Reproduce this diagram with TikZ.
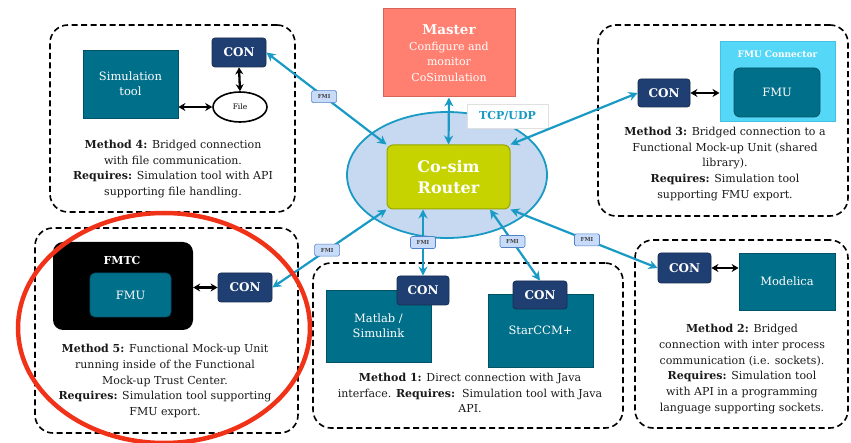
\documentclass[tikz,border=0pt]{standalone}
\usepackage{fontspec}
\setmainfont{DejaVu Serif}
\usetikzlibrary{arrows.meta,shapes.geometric}

\definecolor{toolteal}{RGB}{0,111,138}
\definecolor{conblue}{RGB}{31,63,115}
\definecolor{linkteal}{RGB}{24,154,196}
\definecolor{cloud}{RGB}{198,217,240}
\definecolor{routerfill}{RGB}{198,211,0}
\definecolor{routerline}{RGB}{150,165,0}
\definecolor{masterfill}{RGB}{255,128,112}
\definecolor{masterline}{RGB}{215,100,90}
\definecolor{fmucon}{RGB}{85,215,248}
\definecolor{fmiline}{RGB}{80,130,200}
\definecolor{fmifill}{RGB}{200,220,250}
\definecolor{ring}{RGB}{240,50,25}
\definecolor{desctext}{RGB}{25,25,25}

\tikzset{
  methodbox/.style={draw=black, line width=1.6pt, dash pattern=on 6pt off 3.5pt,
    rounded corners=18pt, inner sep=0pt},
  toolbox/.style={fill=toolteal, draw=toolteal!75!black, line width=0.8pt, text=white,
    align=center, inner sep=0pt, font=\fontsize{11.5}{15}\selectfont},
  conbox/.style={fill=conblue, draw=conblue!70!black, line width=0.8pt, rounded corners=3pt,
    text=white, inner sep=0pt, font=\bfseries\fontsize{12}{14}\selectfont},
  link/.style={draw=linkteal, line width=2.2pt,
    {Stealth[length=9pt,width=9pt]}-{Stealth[length=9pt,width=9pt]}},
  pipe/.style={draw=black, line width=2.3pt,
    {Stealth[length=7pt,width=8pt]}-{Stealth[length=7pt,width=8pt]}},
  fmi/.style={fill=fmifill, draw=fmiline, line width=0.6pt, rounded corners=1.5pt,
    font=\bfseries\fontsize{5.5}{6}\selectfont, text=black!75, inner sep=0pt,
    minimum width=25pt, minimum height=12pt},
  desc/.style={align=center, inner sep=0pt, text=desctext,
    font=\fontsize{11}{15.7}\selectfont},
}

\begin{document}
\begin{tikzpicture}[x=1pt,y=-1pt]
\useasboundingbox (0,0) rectangle (851,443);

% dashed frames of the five methods
\node[methodbox, minimum width=245pt, minimum height=187pt] (m4) at (172.5,118.5) {};
\node[methodbox, minimum width=250pt, minimum height=191pt] (m3) at (723,120.5) {};
\node[methodbox, minimum width=263pt, minimum height=205pt] (m5) at (166.5,330.5) {};
\node[methodbox, minimum width=310pt, minimum height=165pt] (m1) at (468,345.5) {};
\node[methodbox, minimum width=213pt, minimum height=188pt] (m2) at (741.5,334) {};

% central router and master
\node[ellipse, fill=cloud, draw=linkteal, line width=1.8pt,
      minimum width=200pt, minimum height=126pt] (cloud) at (447,175) {};
\node[fill=routerfill, draw=routerline, line width=1pt, rounded corners=6pt,
      minimum width=123pt, minimum height=64pt, align=center, text=white,
      font=\bfseries\fontsize{16}{21}\selectfont] (router) at (448.5,177) {Co-sim\\Router};
\node[fill=masterfill, draw=masterline, line width=1pt,
      minimum width=132pt, minimum height=88pt, align=center, text=white,
      font=\fontsize{11}{15.5}\selectfont] (master) at (449,53)
      {{\bfseries\fontsize{13.5}{16}\selectfont Master}\\Configure and\\monitor\\CoSimulation};
\node[fill=white, draw=black!12, line width=0.5pt, minimum width=81pt, minimum height=24pt,
      text=linkteal, font=\bfseries\fontsize{11}{13}\selectfont] (tcp) at (507.5,116) {TCP/UDP};

% method 4: file bridge
\node[toolbox, minimum width=95pt, minimum height=68pt] (sim4) at (130.5,84) {Simulation\\tool};
\node[conbox, minimum width=54pt, minimum height=29pt] (c4) at (239,52.5) {CON};
\node[ellipse, draw=black, line width=1.6pt, fill=white, minimum width=54pt, minimum height=30pt,
      inner sep=0pt, font=\fontsize{7.5}{8}\selectfont] (file4) at (240,107) {File};
\draw[pipe] (sim4.east |- file4.west) -- (file4.west);
\draw[pipe] (c4.south) -- (file4.north);
\node[desc] (d4) at (173,169) {\textbf{Method 4:} Bridged connection\\with file communication.\\
  \textbf{Requires:} Simulation tool with API\\supporting file handling.};

% method 3: FMU connector
\node[fill=fmucon, draw=fmucon!80!toolteal, line width=1pt,
      minimum width=115pt, minimum height=80pt] (fmuc) at (777.5,82) {};
\node[text=white, font=\bfseries\fontsize{9}{10}\selectfont, inner sep=0pt] (fmuct) at (777.5,54) {FMU Connector};
\node[toolbox, rounded corners=6pt, minimum width=86pt, minimum height=49pt] (fmu3) at (777,92.5) {FMU};
\node[conbox, minimum width=52pt, minimum height=28pt] (c3) at (664,93) {CON};
\draw[pipe] (c3.east) -- (c3.east -| fmuc.west);
\node[desc] (d3) at (725,164) {\textbf{Method 3:} Bridged connection to a\\Functional Mock-up Unit (shared\\library).\\
  \textbf{Requires:} Simulation tool\\supporting FMU export.};

% method 5: FMU in the trust center
\node[fill=black, rounded corners=10pt, minimum width=140pt, minimum height=88pt] (fmtc) at (123,286) {};
\node[text=white, font=\bfseries\fontsize{11}{12}\selectfont, inner sep=0pt] (fmtct) at (122,260) {FMTC};
\node[toolbox, rounded corners=5pt, minimum width=81pt, minimum height=44pt] (fmu5) at (130.5,295) {FMU};
\node[conbox, minimum width=54pt, minimum height=29pt] (c5) at (245,287.5) {CON};
\draw[pipe] (c5.west -| fmtc.east) -- (c5.west);
\node[desc] (d5) at (165,381) {\textbf{Method 5:} Functional Mock-up Unit\\running inside of the Functional\\
  Mock-up Trust Center.\\\textbf{Requires:} Simulation tool supporting\\FMU export.};

% method 1: direct Java connection
\node[toolbox, minimum width=105pt, minimum height=72pt] (matlab) at (378.5,326) {Matlab /\\Simulink};
\node[conbox, minimum width=52pt, minimum height=29pt] (c1a) at (423,290.5) {CON};
\node[toolbox, minimum width=105pt, minimum height=73pt] (star) at (540.5,330.5) {StarCCM+};
\node[conbox, minimum width=54pt, minimum height=28pt] (c1b) at (540,295) {CON};
\node[desc] (d1) at (470,393) {\textbf{Method 1:} Direct connection with Java\\
  interface. \textbf{Requires:}\ \ Simulation tool with Java\\API.};

% method 2: socket bridge
\node[conbox, minimum width=53pt, minimum height=30pt] (c2) at (684.5,268) {CON};
\node[toolbox, minimum width=96pt, minimum height=57pt] (model) at (787,281.5) {Modelica};
\draw[pipe] (c2.east) -- (c2.east -| model.west);
\node[desc] (d2) at (742,369) {\textbf{Method 2:} Bridged\\connection with inter process\\
  communication (i.e. sockets).\\\textbf{Requires:} Simulation tool\\with API in a programming\\
  language supporting sockets.};

% FMI links to the router
\draw[link] (master.south) -- (router.north);
\draw[link] (c4.east) -- node[fmi, pos=0.48] (fmi4) {FMI} (router.north west);
\draw[link] (router.north east) -- (c3.west);
\draw[link] (c5.east) -- node[fmi, pos=0.48] (fmi5) {FMI} (router.south west);
\draw[link] (c1a.north |- router.south) -- node[fmi, pos=0.5] (fmi1a) {FMI} (c1a.north);
\draw[link] ([xshift=41.5pt]router.south) -- node[fmi, pos=0.45] (fmi1b) {FMI} (c1b.north);
\draw[link] (router.south east) -- node[fmi, pos=0.52] (fmi2) {FMI} (c2.west);

% highlight ring
\draw[ring, line width=4.5pt] (164,328) ellipse [x radius=146pt, y radius=115pt];
\end{tikzpicture}
\end{document}
